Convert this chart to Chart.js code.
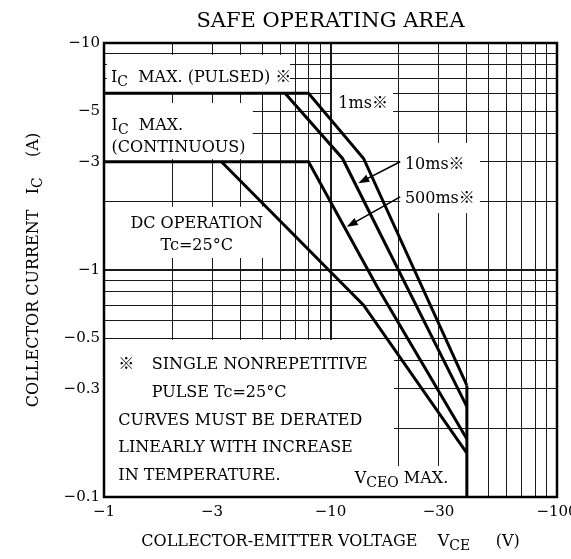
<!DOCTYPE html>
<html>
<head>
<meta charset="utf-8">
<script src="https://cdn.jsdelivr.net/npm/chart.js@4.4.1/dist/chart.umd.min.js"></script>
<style>
  html, body { margin: 0; padding: 0; background: #fff; }
  canvas { display: block; }
</style>
</head>
<body>
<canvas id="soa" width="571" height="559"></canvas>
<script>
// magnitudes: V_CE in volts, I_C in amperes (axes print them as negative, PNP part)
const ms1V = [1, 8, 14, 40]
const ms1I = [6, 6, 3.1, 0.31]
const ms10V = [6.3, 11.3, 40]
const ms10I = [6, 3.1, 0.25]
const ms500V = [1, 8, 16, 40]
const ms500I = [3, 3, 0.85, 0.18]
const dcV = [3.3, 14, 40]
const dcI = [3, 0.7, 0.156]
const vceoV = [40, 40]
const vceoI = [0.31, 0.1]

const xGrid = [1, 2, 3, 4, 5, 6, 7, 8, 9, 10, 20, 30, 40, 50, 60, 70, 80, 90, 100]
const yGrid = [0.1, 0.2, 0.3, 0.4, 0.5, 0.6, 0.7, 0.8, 0.9, 1, 2, 3, 4, 5, 6, 7, 8, 9, 10]
const xTickValues = [1, 3, 10, 30, 100]
const xTickLabels = ['−1', '−3', '−10', '−30', '−100']
const yTickValues = [0.1, 0.3, 0.5, 1, 3, 5, 10]
const yTickLabels = ['−0.1', '−0.3', '−0.5', '−1', '−3', '−5', '−10']

// white patches behind the printed notes: [V from, V to, I top, I bottom]
const patches = [
  [1.03, 6.62, 8.86, 6.08],
  [1, 4.54, 5.44, 3.08],
  [1, 5.52, 1.9, 1.13],
  [10.15, 18.9, 6.08, 4.87],
  [20.3, 45.7, 3.63, 1.78],
  [1, 19.05, 0.492, 0.1],
  [12.2, 38.5, 0.137, 0.1]
]

// text anchored at (V, I); parts flagged 1 are subscripts
const notes = [
  { v: 1.074, i: 6.73, parts: [['I'], ['C', 1], ['  MAX. (PULSED) ※']] },
  { v: 1.08, i: 4.14, parts: [['I'], ['C', 1], ['  MAX.']] },
  { v: 1.08, i: 3.31, parts: [['(CONTINUOUS)']] },
  { v: 2.567, i: 1.53, center: true, parts: [['DC OPERATION']] },
  { v: 2.567, i: 1.225, center: true, parts: [['Tc=25°C']] },
  { v: 10.83, i: 5.17, parts: [['1ms※']] },
  { v: 21.3, i: 2.79, parts: [['10ms※']] },
  { v: 21.3, i: 1.97, parts: [['500ms※']] },
  { v: 1.157, i: 0.366, parts: [['※']] },
  { v: 1.624, i: 0.366, parts: [['SINGLE NONREPETITIVE']] },
  { v: 1.624, i: 0.276, parts: [['PULSE Tc=25°C']] },
  { v: 1.157, i: 0.2075, parts: [['CURVES MUST BE DERATED']] },
  { v: 1.157, i: 0.158, parts: [['LINEARLY WITH INCREASE']] },
  { v: 1.157, i: 0.119, parts: [['IN TEMPERATURE.']] },
  { v: 12.8, i: 0.1153, parts: [['V'], ['CEO', 1], [' MAX.']] }
]

const arrows = [
  { from: [20.3, 3.0], to: [13.26, 2.41] },
  { from: [20.3, 2.1], to: [11.8, 1.55] }
]

const SERIF = '"DejaVu Serif", "Noto Sans CJK JP", serif'
const font = (size) => size + 'px ' + SERIF

function drawParts(ctx, parts, x, y, center, size, subSize) {
  const widths = parts.map(([t, sub]) => {
    ctx.font = font(sub ? subSize : size)
    return ctx.measureText(t).width
  })
  const total = widths.reduce((a, b) => a + b, 0)
  let cx = center ? x - total / 2 : x
  ctx.textAlign = 'left'
  ctx.textBaseline = 'alphabetic'
  parts.forEach(([t, sub], k) => {
    ctx.font = font(sub ? subSize : size)
    ctx.fillText(t, cx, sub ? y + 4 : y)
    cx += widths[k]
  })
}

const labelFor = (values, labels) => (value) => {
  const k = values.findIndex(v => Math.abs(v - value) < 1e-9 * Math.max(1, v))
  return k < 0 ? '' : labels[k]
}

const pts = (xs, ys) => xs.map((x, k) => ({ x: x, y: ys[k] }))

const curve = (label, xs, ys) => ({
  label: label,
  data: pts(xs, ys),
  showLine: true,
  borderColor: '#000',
  borderWidth: 3,
  borderJoinStyle: 'miter',
  pointRadius: 0,
  fill: false,
  tension: 0
})

const soaDecor = {
  id: 'soaDecor',
  beforeDatasetsDraw(chart) {
    const { ctx, scales: { x, y } } = chart
    ctx.save()
    ctx.fillStyle = '#fff'
    patches.forEach(([v0, v1, i0, i1]) => {
      const px0 = x.getPixelForValue(v0), px1 = x.getPixelForValue(v1)
      const py0 = y.getPixelForValue(i0), py1 = y.getPixelForValue(i1)
      ctx.fillRect(px0, py0, px1 - px0, py1 - py0)
    })
    ctx.fillStyle = '#000'
    notes.forEach(n => {
      drawParts(ctx, n.parts, x.getPixelForValue(n.v), y.getPixelForValue(n.i), n.center, 16, 14)
    })
    ctx.restore()
  },
  afterDatasetsDraw(chart) {
    const { ctx, chartArea: a, scales: { x, y } } = chart
    ctx.save()
    ctx.strokeStyle = '#000'
    ctx.fillStyle = '#000'
    arrows.forEach(({ from, to }) => {
      const x0 = x.getPixelForValue(from[0]), y0 = y.getPixelForValue(from[1])
      const x1 = x.getPixelForValue(to[0]), y1 = y.getPixelForValue(to[1])
      const ang = Math.atan2(y1 - y0, x1 - x0)
      ctx.lineWidth = 1.6
      ctx.beginPath()
      ctx.moveTo(x0, y0)
      ctx.lineTo(x1 - 8 * Math.cos(ang), y1 - 8 * Math.sin(ang))
      ctx.stroke()
      ctx.beginPath()
      ctx.moveTo(x1, y1)
      ctx.lineTo(x1 - 11 * Math.cos(ang) + 4 * Math.sin(ang), y1 - 11 * Math.sin(ang) - 4 * Math.cos(ang))
      ctx.lineTo(x1 - 11 * Math.cos(ang) - 4 * Math.sin(ang), y1 - 11 * Math.sin(ang) + 4 * Math.cos(ang))
      ctx.closePath()
      ctx.fill()
    })
    ctx.lineWidth = 2.5
    ctx.strokeRect(a.left, a.top, a.right - a.left, a.bottom - a.top)
    ctx.restore()
  },
  afterDraw(chart) {
    const { ctx, chartArea: a } = chart
    const mid = (a.left + a.right) / 2
    ctx.save()
    ctx.fillStyle = '#000'
    ctx.font = font(21)
    ctx.textAlign = 'center'
    ctx.textBaseline = 'alphabetic'
    ctx.fillText('SAFE OPERATING AREA', mid, 27)
    drawParts(ctx, [['COLLECTOR-EMITTER VOLTAGE    V'], ['CE', 1], ['     (V)']], mid, 546, true, 16, 14)
    ctx.translate(38, (a.top + a.bottom) / 2)
    ctx.rotate(-Math.PI / 2)
    drawParts(ctx, [['COLLECTOR CURRENT   I'], ['C', 1], ['    (A)']], 0, 0, true, 16, 14)
    ctx.restore()
  }
}

new Chart(document.getElementById('soa'), {
  type: 'scatter',
  data: {
    datasets: [
      curve('1ms', ms1V, ms1I),
      curve('10ms', ms10V, ms10I),
      curve('500ms', ms500V, ms500I),
      curve('DC', dcV, dcI),
      curve('VCEO max', vceoV, vceoI)
    ]
  },
  options: {
    responsive: false,
    animation: false,
    devicePixelRatio: 1,
    events: [],
    layout: { padding: { left: 0, right: 14, top: 43, bottom: 0 } },
    scales: {
      x: {
        type: 'logarithmic',
        min: 1,
        max: 100,
        afterBuildTicks: (scale) => { scale.ticks = xGrid.map(v => ({ value: v })) },
        afterFit: (scale) => {
          scale.height = 62
          scale.paddingLeft = 0
          scale.paddingRight = 0
        },
        grid: {
          color: '#1a1a1a',
          lineWidth: (c) => (c.tick && c.tick.value === 10 ? 2 : 1),
          drawTicks: false
        },
        border: { display: false },
        ticks: {
          autoSkip: false,
          maxRotation: 0,
          minRotation: 0,
          padding: 6,
          color: '#000',
          font: { family: SERIF, size: 15 },
          callback: labelFor(xTickValues, xTickLabels)
        }
      },
      y: {
        type: 'logarithmic',
        min: 0.1,
        max: 10,
        afterBuildTicks: (scale) => { scale.ticks = yGrid.map(v => ({ value: v })) },
        afterFit: (scale) => {
          scale.width = 104
          scale.paddingTop = 0
          scale.paddingBottom = 0
        },
        grid: {
          color: '#1a1a1a',
          lineWidth: (c) => (c.tick && c.tick.value === 1 ? 2 : 1),
          drawTicks: false
        },
        border: { display: false },
        ticks: {
          autoSkip: false,
          padding: 4,
          color: '#000',
          font: { family: SERIF, size: 15 },
          callback: labelFor(yTickValues, yTickLabels)
        }
      }
    },
    plugins: {
      legend: { display: false },
      tooltip: { enabled: false }
    }
  },
  plugins: [soaDecor]
})
</script>
</body>
</html>
